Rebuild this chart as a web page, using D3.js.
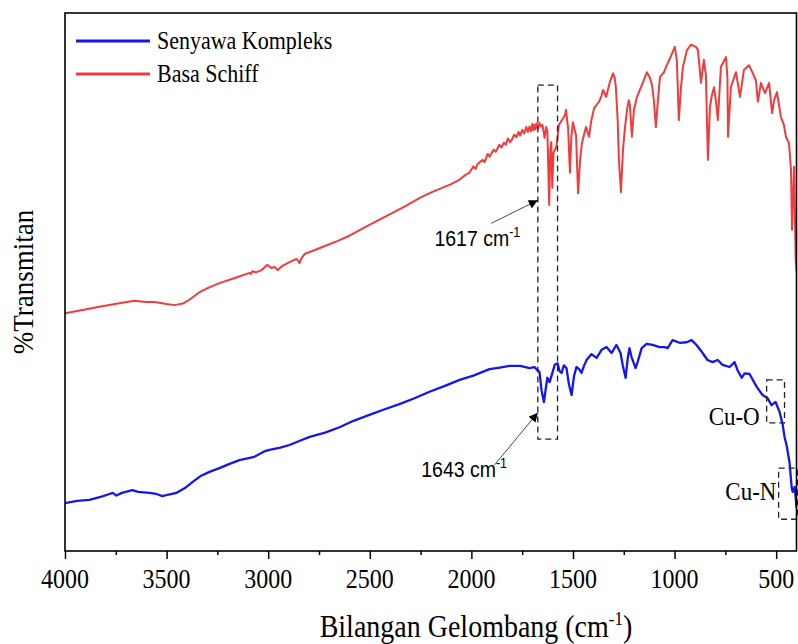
<!DOCTYPE html>
<html>
<head>
<meta charset="utf-8">
<script src="https://cdn.jsdelivr.net/npm/d3@7"></script>
<style>
  html, body { margin: 0; padding: 0; background: #fff; }
  .serif { font-family: "Liberation Serif", "Times New Roman", serif; fill: #000; }
  .sans { font-family: "Liberation Sans", Arial, sans-serif; fill: #000; }
</style>
</head>
<body>
<div id="chart"></div>
<script>
// FTIR spectra, [wavenumber (cm-1), %T]
const basaSchiff = [
  [4000, 44.2], [3900, 44.9], [3831, 45.4], [3740, 46.0], [3658, 46.5], [3600, 46.3],
  [3560, 46.3], [3500, 45.9], [3461, 45.7], [3420, 46.0], [3388, 46.7], [3338, 48.1],
  [3290, 49.0], [3240, 49.8], [3160, 50.8], [3092, 51.7], [3085, 51.5], [3078, 52.0],
  [3060, 51.8], [3033, 52.2], [3004, 53.2], [2985, 52.6], [2969, 52.8], [2954, 52.2],
  [2930, 53.0], [2900, 53.6], [2861, 54.3], [2853, 54.0], [2846, 53.5], [2835, 54.5],
  [2821, 55.2], [2780, 55.8], [2733, 56.5], [2660, 57.6], [2600, 58.6], [2502, 60.6],
  [2400, 62.6], [2320, 64.2], [2256, 65.6], [2200, 66.6], [2150, 67.4], [2100, 68.2],
  [2059, 69.0], [2030, 69.9], [2010, 70.3], [1990, 71.5], [1980, 71.0], [1970, 71.9],
  [1945, 72.7], [1935, 72.3], [1920, 73.8], [1910, 73.3], [1900, 74.0], [1890, 74.6],
  [1880, 74.2], [1862, 75.5], [1852, 75.0], [1840, 75.9], [1830, 75.5], [1820, 76.7],
  [1810, 76.0], [1800, 76.5], [1790, 77.4], [1778, 76.9], [1768, 77.9], [1760, 77.2],
  [1750, 78.3], [1740, 77.6], [1730, 78.8], [1722, 77.9], [1714, 78.9], [1706, 78.0],
  [1700, 79.4], [1694, 78.2], [1690, 79.2], [1684, 78.4], [1680, 79.5], [1672, 78.6],
  [1665, 79.6], [1658, 78.9], [1650, 79.2], [1640, 76.8], [1632, 78.8], [1626, 78.0],
  [1617, 64.3], [1612, 74.5], [1607, 76.0], [1602, 67.5], [1596, 74.0],
  [1590, 74.5], [1582, 75.1], [1569, 79.2], [1554, 80.1], [1540, 81.0], [1534, 82.0],
  [1527, 79.5], [1524, 78.6], [1515, 70.3], [1508, 77.0], [1500, 79.7], [1490, 78.0],
  [1485, 77.3], [1475, 66.5], [1465, 72.7], [1456, 75.8], [1445, 77.5], [1436, 78.8],
  [1421, 77.0], [1410, 80.0], [1396, 82.3], [1372, 83.5], [1360, 84.6], [1352, 85.7],
  [1337, 84.4], [1318, 87.2], [1303, 88.8], [1295, 88.0], [1289, 86.2], [1280, 80.0],
  [1274, 72.7], [1264, 66.7], [1254, 74.5], [1244, 78.8], [1232, 82.5], [1225, 83.8],
  [1220, 82.9], [1210, 77.0], [1200, 82.0], [1185, 84.4], [1161, 86.6], [1136, 89.0],
  [1121, 87.9], [1111, 86.6], [1102, 83.8], [1092, 78.8], [1082, 83.8], [1072, 88.1],
  [1052, 89.0], [1038, 90.3], [1018, 92.0], [999, 93.7], [989, 91.3], [979, 80.1],
  [969, 85.9], [959, 90.0], [939, 93.1], [920, 94.1], [895, 93.7], [885, 93.1],
  [870, 87.0], [856, 91.3], [846, 88.5], [836, 72.7], [826, 82.5], [816, 84.8],
  [806, 86.2], [797, 83.8], [787, 80.1], [772, 90.0], [747, 91.8], [740, 88.0],
  [737, 77.0], [723, 86.2], [698, 89.0], [678, 84.4], [659, 89.4], [634, 90.3],
  [615, 88.8], [600, 87.5], [590, 83.5], [575, 87.0], [555, 85.1], [535, 87.0],
  [520, 81.4], [510, 83.8], [496, 85.3], [477, 80.7], [462, 79.2], [452, 77.0],
  [437, 75.8], [427, 70.8], [422, 59.7], [417, 65.4], [412, 71.4], [404, 54.1], [400, 52.0],
];

const senyawaKompleks = [
  [4000, 8.9], [3940, 9.3], [3880, 9.5], [3820, 10.1], [3781, 10.6], [3765, 10.8],
  [3747, 10.3], [3720, 10.8], [3668, 11.3], [3640, 11.0], [3585, 10.8], [3550, 10.6],
  [3521, 10.2], [3490, 10.5], [3452, 10.8], [3410, 11.7], [3373, 12.8], [3330, 14.0],
  [3289, 14.7], [3240, 15.4], [3190, 16.2], [3142, 16.9], [3068, 17.5], [3020, 18.5],
  [2994, 18.8], [2940, 19.2], [2895, 19.7], [2850, 20.4], [2796, 21.2], [2720, 22.0],
  [2649, 23.0], [2580, 24.2], [2502, 25.3], [2430, 26.3], [2354, 27.3], [2280, 28.4],
  [2206, 29.6], [2130, 30.7], [2058, 31.8], [1990, 32.6], [1911, 33.8], [1860, 34.1],
  [1812, 34.4], [1760, 34.4], [1714, 34.0], [1690, 34.2], [1675, 33.6], [1665, 33.3],
  [1655, 29.9], [1643, 27.7], [1635, 29.9], [1626, 32.2], [1615, 31.4], [1600, 33.3],
  [1590, 34.6], [1576, 34.9], [1566, 33.4], [1556, 33.1], [1545, 34.5], [1532, 34.0],
  [1520, 31.0], [1507, 29.0], [1495, 32.5], [1483, 34.2], [1470, 33.8], [1458, 33.1],
  [1445, 34.5], [1433, 35.5], [1409, 36.6], [1384, 35.9], [1359, 37.4], [1335, 37.9],
  [1310, 36.8], [1286, 38.3], [1266, 36.8], [1255, 34.5], [1241, 32.2], [1230, 36.0],
  [1222, 37.7], [1212, 36.1], [1192, 34.0], [1182, 35.1], [1162, 37.7], [1138, 38.5],
  [1108, 38.3], [1074, 37.9], [1049, 37.9], [1034, 37.7], [1010, 39.2], [975, 38.7],
  [941, 38.8], [916, 39.2], [892, 38.3], [862, 36.8], [838, 35.5], [813, 35.1],
  [788, 35.5], [764, 34.6], [729, 34.2], [705, 35.1], [690, 33.6], [670, 32.2],
  [655, 33.0], [631, 32.9], [596, 30.5], [567, 29.0], [542, 28.4], [523, 27.1],
  [503, 27.7], [483, 25.8], [468, 23.5], [459, 21.2], [449, 19.7], [434, 16.4],
  [424, 11.9], [419, 11.0], [414, 11.5], [409, 11.9], [402, 9.0], [400, 8.0],
];

const seriesNames = ["Senyawa Kompleks", "Basa Schiff"];
const seriesColors = ["#1515f0", "#f03c3c"];
const majorTicks = [4000, 3500, 3000, 2500, 2000, 1500, 1000, 500];
const minorTicks = [3750, 3250, 2750, 2250, 1750, 1250, 750];

// dashed boxes: [wave left, wave right, %T top, %T bottom]
const peakBoxes = [
  [1673, 1576, 86.6, 20.8],
  [547, 459, 31.8, 23.8],
  [488, 396, 15.4, 5.9],
];
// arrows: [wave from, %T from, wave to, %T to]
const peakArrows = [
  [1902, 60.9, 1673, 65.2],
  [1886, 16.0, 1673, 25.7],
];
// labels: [text, wave, %T]
const peakLabels = [
  ["1617", 2182, 56.7],
  ["1643", 2247, 13.8],
];
const bondLabels = [
  ["Cu-O", 581, 23.4],
  ["Cu-N", 499, 9.5],
];

class VisFtirSpectrum {
  constructor({ el }) {
    this.el = el;
    this.initVis();
  }

  initVis() {
    this.width = 798;
    this.height = 644;
    this.plot = { left: 65, right: 796.5, top: 13, bottom: 551 };
    this.stretch = 1.1;

    this.x = d3.scaleLinear().domain([4000, 400]).range([this.plot.left, this.plot.right]);
    this.y = d3.scaleLinear().domain([0, 100]).range([this.plot.bottom, this.plot.top]);

    this.svg = d3
      .select(this.el)
      .append("svg")
      .attr("width", this.width)
      .attr("height", this.height);

    this.svg
      .append("defs")
      .call((defs) =>
        defs
          .append("clipPath")
          .attr("id", "plot-clip")
          .append("rect")
          .attr("x", this.plot.left)
          .attr("y", this.plot.top)
          .attr("width", this.plot.right - this.plot.left)
          .attr("height", this.plot.bottom - this.plot.top)
      )
      .call((defs) =>
        defs
          .append("marker")
          .attr("id", "arrow-head")
          .attr("viewBox", "0 0 10 10")
          .attr("refX", 10)
          .attr("refY", 5)
          .attr("markerUnits", "userSpaceOnUse")
          .attr("markerWidth", 11)
          .attr("markerHeight", 9)
          .attr("orient", "auto")
          .append("path")
          .attr("d", "M0,0 L10,5 L0,10 Z")
          .attr("fill", "#000")
      );

    this.renderLines();
    this.renderAnnotations();
    this.renderAxes();
    this.renderLegend();
  }

  textAt(sel, x, y) {
    return sel.attr("transform", `translate(${x},${y}) scale(1,${this.stretch})`);
  }

  renderLines() {
    const line = d3
      .line()
      .x((d) => this.x(d[0]))
      .y((d) => this.y(d[1]));

    this.svg
      .append("g")
      .attr("clip-path", "url(#plot-clip)")
      .selectAll("path")
      .data([senyawaKompleks, basaSchiff])
      .join("path")
      .attr("fill", "none")
      .attr("stroke", (d, i) => seriesColors[i])
      .attr("stroke-width", (d, i) => (i ? 2 : 2.3))
      .attr("stroke-linejoin", "round")
      .attr("d", line);
  }

  renderAnnotations() {
    const g = this.svg.append("g").attr("class", "annotations");

    g.selectAll(".peak-box")
      .data(peakBoxes)
      .join("rect")
      .attr("class", "peak-box")
      .attr("x", (d) => this.x(d[0]))
      .attr("y", (d) => this.y(d[2]))
      .attr("width", (d) => this.x(d[1]) - this.x(d[0]))
      .attr("height", (d) => this.y(d[3]) - this.y(d[2]))
      .attr("fill", "none")
      .attr("stroke", "#222")
      .attr("stroke-width", 1.3)
      .attr("stroke-dasharray", "6,4");

    g.selectAll(".peak-arrow")
      .data(peakArrows)
      .join("line")
      .attr("class", "peak-arrow")
      .attr("x1", (d) => this.x(d[0]))
      .attr("y1", (d) => this.y(d[1]))
      .attr("x2", (d) => this.x(d[2]))
      .attr("y2", (d) => this.y(d[3]))
      .attr("stroke", "#333")
      .attr("stroke-width", 0.9)
      .attr("marker-end", "url(#arrow-head)");

    g.selectAll(".peak-label")
      .data(peakLabels)
      .join("text")
      .attr("class", "peak-label sans")
      .attr("font-size", 19.5)
      .each((d, i, nodes) => this.textAt(d3.select(nodes[i]), this.x(d[1]), this.y(d[2])))
      .call((t) => t.append("tspan").text((d) => `${d[0]} cm`))
      .call((t) =>
        t.append("tspan").attr("dy", -8).attr("font-size", 12.5).text("-1")
      );

    g.selectAll(".bond-label")
      .data(bondLabels)
      .join("text")
      .attr("class", "bond-label serif")
      .attr("font-size", 23)
      .attr("text-anchor", "end")
      .each((d, i, nodes) => this.textAt(d3.select(nodes[i]), this.x(d[1]), this.y(d[2])))
      .text((d) => d[0]);
  }

  renderAxes() {
    const { left, right, top, bottom } = this.plot;

    this.svg
      .append("g")
      .attr("transform", `translate(0,${bottom})`)
      .call(d3.axisBottom(this.x).tickValues(minorTicks).tickSize(4).tickFormat(""))
      .call((g) => g.select(".domain").remove())
      .call((g) => g.selectAll("line").attr("stroke-width", 1.5));

    this.svg
      .append("g")
      .attr("transform", `translate(0,${bottom})`)
      .call(d3.axisBottom(this.x).tickValues(majorTicks).tickSize(8).tickFormat(""))
      .call((g) => g.select(".domain").remove())
      .call((g) => g.selectAll("line").attr("stroke-width", 1.5));

    this.svg
      .append("g")
      .selectAll("text")
      .data(majorTicks)
      .join("text")
      .attr("class", "serif")
      .attr("font-size", 24)
      .attr("text-anchor", "middle")
      .each((d, i, nodes) => this.textAt(d3.select(nodes[i]), this.x(d), bottom + 37))
      .text((d) => d);

    this.svg
      .append("rect")
      .attr("x", left)
      .attr("y", top)
      .attr("width", right - left)
      .attr("height", bottom - top)
      .attr("fill", "none")
      .attr("stroke", "#000")
      .attr("stroke-width", 1.6);

    this.textAt(
      this.svg
        .append("text")
        .attr("class", "serif")
        .attr("font-size", 28)
        .attr("text-anchor", "middle"),
      476,
      637
    )
      .call((t) => t.append("tspan").text("Bilangan Gelombang (cm"))
      .call((t) => t.append("tspan").attr("dy", -11).attr("font-size", 17).text("-1"))
      .call((t) => t.append("tspan").attr("dy", 11).text(")"));

    this.svg
      .append("text")
      .attr("class", "serif")
      .attr("font-size", 27)
      .attr("text-anchor", "middle")
      .attr("transform", `translate(33,${(top + bottom) / 2}) rotate(-90) scale(1,${this.stretch})`)
      .text("%Transmitan");
  }

  renderLegend() {
    const item = this.svg
      .append("g")
      .attr("class", "legend")
      .selectAll("g")
      .data(seriesNames)
      .join("g")
      .attr("transform", (d, i) => `translate(0,${41 + i * 33})`);

    item
      .append("line")
      .attr("x1", 76)
      .attr("x2", 150)
      .attr("stroke", (d, i) => seriesColors[i])
      .attr("stroke-width", 3);

    item
      .append("text")
      .attr("class", "serif")
      .attr("font-size", 22)
      .each((d, i, nodes) => this.textAt(d3.select(nodes[i]), 157, 8))
      .text((d) => d);
  }
}

new VisFtirSpectrum({ el: "#chart" });
</script>
</body>
</html>
